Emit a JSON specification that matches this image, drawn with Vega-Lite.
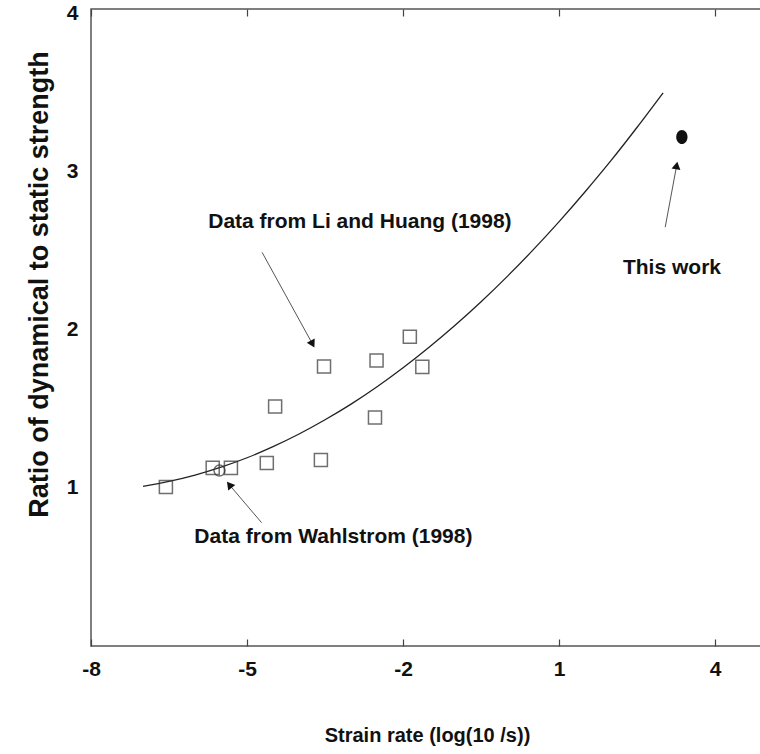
{
  "$schema": "https://vega.github.io/schema/vega-lite/v6.json",
  "width": 672,
  "height": 637,
  "autosize": {"type": "none"},
  "padding": {"left": 91, "top": 9, "right": 0, "bottom": 108},
  "background": "white",
  "config": {
    "view": {"stroke": "#555", "strokeWidth": 1.5},
    "font": "Liberation Sans",
    "axis": {"domain": false, "grid": false, "labelFont": "Liberation Sans", "labelFontWeight": "bold", "labelFontSize": 21, "labelColor": "#111", "titleFont": "Liberation Sans", "titleFontWeight": "bold", "titleColor": "#111"}
  },
  "datasets": {
    "curve": [
      {"rate": -7.0, "ratio": 1.01}, {"rate": -6.5, "ratio": 1.041}, {"rate": -6.0, "ratio": 1.081},
      {"rate": -5.5, "ratio": 1.131}, {"rate": -5.0, "ratio": 1.191}, {"rate": -4.5, "ratio": 1.261},
      {"rate": -4.0, "ratio": 1.341}, {"rate": -3.5, "ratio": 1.431}, {"rate": -3.0, "ratio": 1.53},
      {"rate": -2.5, "ratio": 1.64}, {"rate": -2.0, "ratio": 1.76}, {"rate": -1.5, "ratio": 1.89},
      {"rate": -1.0, "ratio": 2.029}, {"rate": -0.5, "ratio": 2.178}, {"rate": 0.0, "ratio": 2.337},
      {"rate": 0.5, "ratio": 2.506}, {"rate": 1.0, "ratio": 2.685}, {"rate": 1.5, "ratio": 2.874},
      {"rate": 2.0, "ratio": 3.072}, {"rate": 2.5, "ratio": 3.282}, {"rate": 3.0, "ratio": 3.5}
    ],
    "li": [
      {"rate": -6.56, "ratio": 1.006}, {"rate": -5.66, "ratio": 1.127}, {"rate": -5.31, "ratio": 1.127},
      {"rate": -4.62, "ratio": 1.158}, {"rate": -4.46, "ratio": 1.515}, {"rate": -3.58, "ratio": 1.177},
      {"rate": -3.52, "ratio": 1.768}, {"rate": -2.54, "ratio": 1.445}, {"rate": -2.51, "ratio": 1.806},
      {"rate": -1.87, "ratio": 1.956}, {"rate": -1.63, "ratio": 1.766}
    ],
    "wahl": [{"rate": -5.53, "ratio": 1.11}],
    "thiswork": [{"rate": 3.36, "ratio": 3.22}],
    "arrows": [
      {"name": "li", "x": -4.71, "y": 2.49, "x2": -3.74, "y2": 1.91},
      {"name": "wahl", "x": -4.72, "y": 0.78, "x2": -5.34, "y2": 1.02},
      {"name": "this", "x": 3.04, "y": 2.65, "x2": 3.26, "y2": 3.04}
    ],
    "labels": [
      {"text": "Data from Li and Huang (1998)", "x": -2.83, "y": 2.68},
      {"text": "Data from Wahlstrom (1998)", "x": -3.34, "y": 0.69},
      {"text": "This work", "x": 3.17, "y": 2.39}
    ]
  },
  "resolve": {"axis": {"x": "independent", "y": "independent"}},
  "layer": [
    {
      "data": {"name": "curve"},
      "mark": {"type": "line", "color": "#222", "strokeWidth": 1.3, "interpolate": "monotone"},
      "encoding": {
        "x": {"field": "rate", "type": "quantitative", "scale": {"domain": [-8, 4.92], "nice": false, "zero": false},
          "axis": {"title": "Strain rate (log(10 /s))", "titleFontSize": 20, "titlePadding": 46, "values": [-8, -5, -2, 1, 4], "labelExpr": "datum.value < 0 ? '-' + abs(datum.value) : '' + datum.value", "tickSize": -7, "tickColor": "#444", "tickWidth": 1.2, "labelPadding": 19, "labelFlush": false}},
        "y": {"field": "ratio", "type": "quantitative", "scale": {"domain": [0, 4.03], "nice": false, "zero": false},
          "axis": {"title": "Ratio of dynamical to static strength", "titleFontSize": 27, "titlePadding": 13, "titleY": 275, "values": [1, 2, 3, 4], "ticks": false, "labelPadding": 13}}
      }
    },
    {
      "data": {"name": "curve"},
      "mark": {"type": "line", "opacity": 0},
      "encoding": {
        "x": {"field": "rate", "type": "quantitative", "axis": {"orient": "top", "labels": false, "title": null, "values": [-8, -5, -2, 1, 4], "tickSize": -7, "tickColor": "#444", "tickWidth": 1.2}},
        "y": {"field": "ratio", "type": "quantitative", "axis": null}
      }
    },
    {
      "data": {"name": "li"},
      "mark": {"type": "point", "shape": "square", "size": 170, "filled": false, "stroke": "#333", "strokeWidth": 1.5},
      "encoding": {
        "x": {"field": "rate", "type": "quantitative", "axis": null},
        "y": {"field": "ratio", "type": "quantitative", "axis": null}
      }
    },
    {
      "data": {"name": "wahl"},
      "mark": {"type": "point", "shape": "circle", "size": 120, "filled": false, "stroke": "#333", "strokeWidth": 1.5},
      "encoding": {
        "x": {"field": "rate", "type": "quantitative", "axis": null},
        "y": {"field": "ratio", "type": "quantitative", "axis": null}
      }
    },
    {
      "data": {"name": "thiswork"},
      "mark": {"type": "point", "shape": "M-0.8,0 A0.8,1 0 1,1 0.8,0 A0.8,1 0 1,1 -0.8,0 Z", "size": 200, "filled": true, "fill": "#111", "opacity": 1},
      "encoding": {
        "x": {"field": "rate", "type": "quantitative", "axis": null},
        "y": {"field": "ratio", "type": "quantitative", "axis": null}
      }
    },
    {
      "data": {"name": "arrows"},
      "mark": {"type": "rule", "color": "#555", "strokeWidth": 1},
      "encoding": {
        "x": {"field": "x", "type": "quantitative", "axis": null},
        "y": {"field": "y", "type": "quantitative", "axis": null},
        "x2": {"field": "x2"},
        "y2": {"field": "y2"}
      }
    },
    {
      "data": {"name": "arrows"},
      "transform": [{"filter": "datum.name == 'li'"}],
      "mark": {"type": "point", "shape": "triangle-up", "size": 80, "filled": true, "fill": "#111", "opacity": 1, "angle": 152},
      "encoding": {
        "x": {"field": "x2", "type": "quantitative", "axis": null},
        "y": {"field": "y2", "type": "quantitative", "axis": null}
      }
    },
    {
      "data": {"name": "arrows"},
      "transform": [{"filter": "datum.name == 'wahl'"}],
      "mark": {"type": "point", "shape": "triangle-up", "size": 80, "filled": true, "fill": "#111", "opacity": 1, "angle": -38},
      "encoding": {
        "x": {"field": "x2", "type": "quantitative", "axis": null},
        "y": {"field": "y2", "type": "quantitative", "axis": null}
      }
    },
    {
      "data": {"name": "arrows"},
      "transform": [{"filter": "datum.name == 'this'"}],
      "mark": {"type": "point", "shape": "triangle-up", "size": 80, "filled": true, "fill": "#111", "opacity": 1, "angle": 10},
      "encoding": {
        "x": {"field": "x2", "type": "quantitative", "axis": null},
        "y": {"field": "y2", "type": "quantitative", "axis": null}
      }
    },
    {
      "data": {"name": "labels"},
      "mark": {"type": "text", "font": "Liberation Sans", "fontWeight": "bold", "fontSize": 21, "color": "#111", "align": "center", "baseline": "middle"},
      "encoding": {
        "x": {"field": "x", "type": "quantitative", "axis": null},
        "y": {"field": "y", "type": "quantitative", "axis": null},
        "text": {"field": "text"}
      }
    }
  ]
}
